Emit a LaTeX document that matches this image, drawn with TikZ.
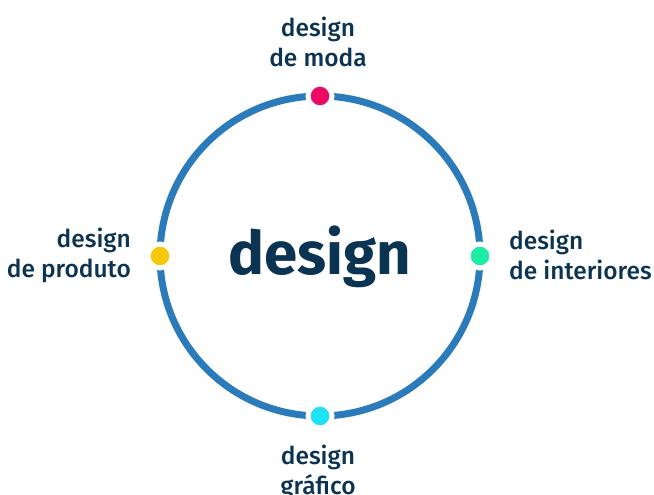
\documentclass[tikz,border=0pt]{standalone}
\usepackage{fontspec}
\setmainfont{Fira Sans}
\newfontfamily\firamed{Fira Sans Medium}
\usepackage{xcolor}
\usepackage{tikz}

\definecolor{ringblue}{HTML}{2B7BBB}
\definecolor{navy}{HTML}{0B3352}
\definecolor{moda}{HTML}{EE0A64}
\definecolor{interiores}{HTML}{1EEDA8}
\definecolor{grafico}{HTML}{1EE3F2}
\definecolor{produto}{HTML}{F5C90A}

\tikzset{
  dot/.style={circle, draw=white, line width=5pt, inner sep=0pt, minimum size=24pt},
  area/.style={inner sep=0pt, text=navy, font=\firamed\fontsize{24.5}{30}\selectfont}
}

\begin{document}
\begin{tikzpicture}[x=1pt,y=-1pt]
        \useasboundingbox (0,0) rectangle (654,495);
        \coordinate (c) at (320,256);
        \draw[ringblue, line width=7pt] (c) circle (160);

        \node[dot, fill=moda] (moda) at (320,96) {};
        \node[dot, fill=interiores] (interiores) at (480,256) {};
        \node[dot, fill=grafico] (grafico) at (320,416) {};
        \node[dot, fill=produto] (produto) at (160,256) {};

        \node[area, align=center] (tmoda) at (318,42) {design\\de moda};
        \node[area, align=left, anchor=west] (tinteriores) at (509,255) {design\\de interiores};
        \node[area, align=center] (tgrafico) at (318,472) {design\\gráfico};
        \node[area, align=right, anchor=east] (tproduto) at (131,255) {design\\de produto};

        \node[inner sep=0pt, text=navy, font=\bfseries\fontsize{60}{66}\selectfont] (main) at (320,257) {design};
    \end{tikzpicture}
\end{document}
